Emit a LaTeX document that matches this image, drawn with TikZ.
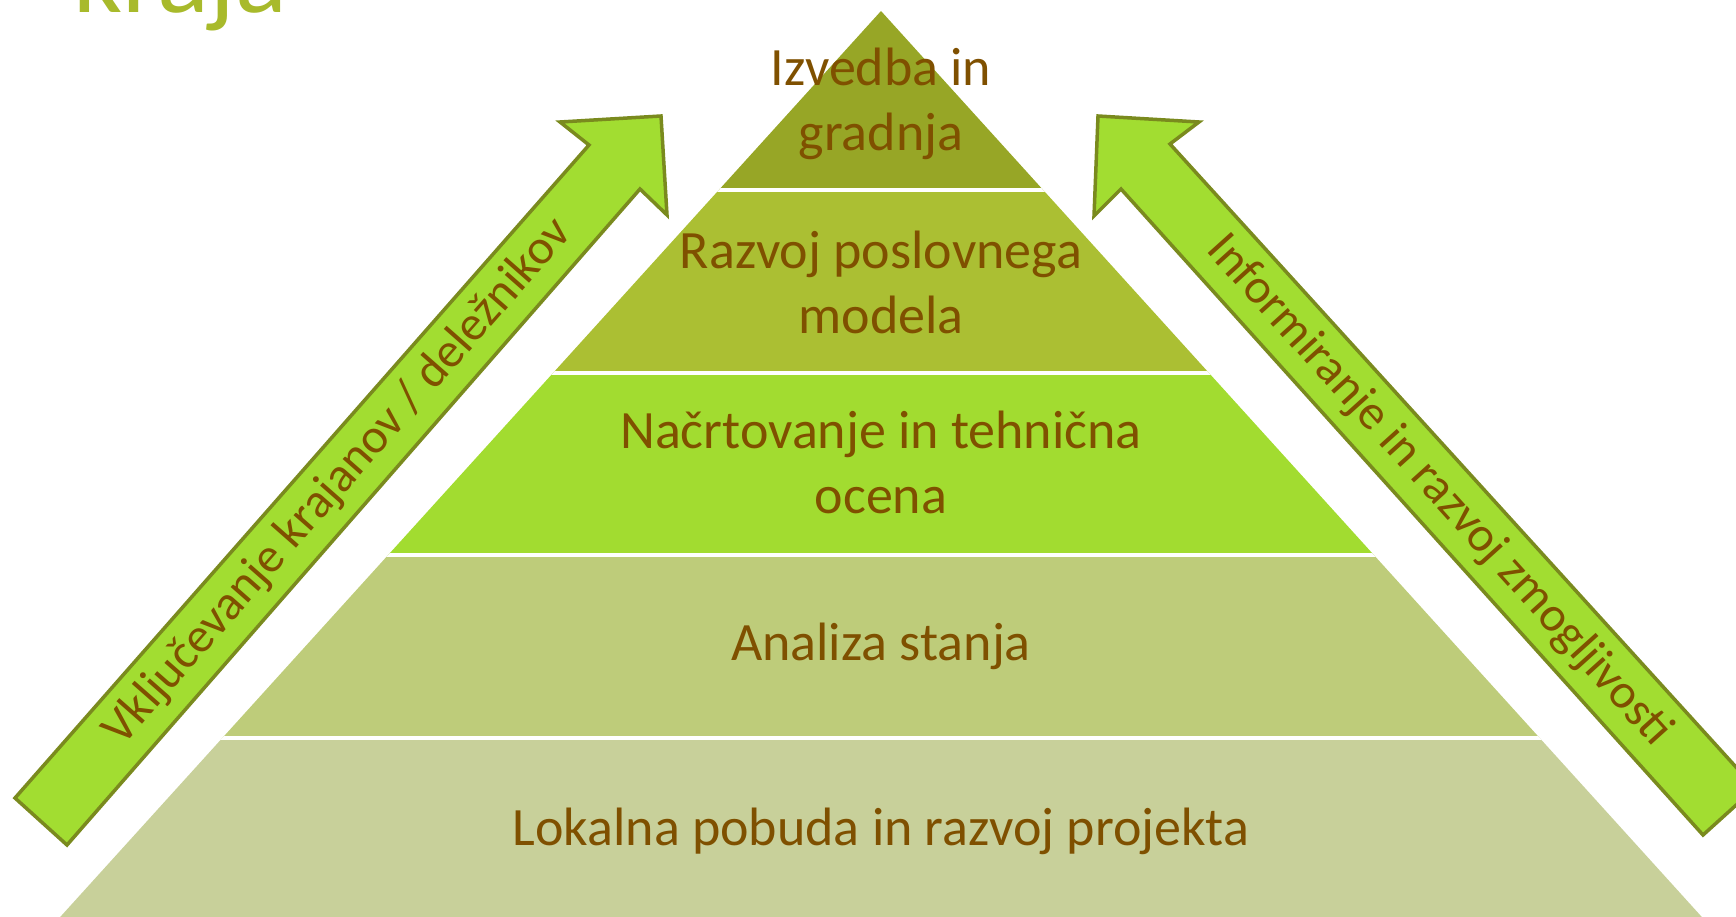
\documentclass[tikz,border=0pt]{standalone}
\usepackage{fontspec}
\setmainfont{Carlito}
\definecolor{txt}{RGB}{127,80,0}
\definecolor{lone}{RGB}{151,166,38}
\definecolor{ltwo}{RGB}{171,191,51}
\definecolor{lthree}{RGB}{162,220,48}
\definecolor{lfour}{RGB}{190,204,122}
\definecolor{lfive}{RGB}{200,208,154}
\definecolor{arrfill}{RGB}{162,221,49}
\definecolor{arrline}{RGB}{122,138,30}
\definecolor{titlec}{RGB}{168,186,43}
\tikzset{
  lbl/.style={text=txt, font=\fontsize{54}{65}\selectfont, align=center, inner sep=0pt},
  albl/.style={text=txt, font=\fontsize{49}{60}\selectfont, inner sep=0pt},
  blockarrow/.style={fill=arrfill, draw=arrline, line width=3.5pt, line join=miter},
  sep/.style={white, line width=3.5pt}
}
\begin{document}
\begin{tikzpicture}[x=1pt,y=-1pt]
\useasboundingbox (0,0) rectangle (1736,917);
\begin{scope}
\clip (0,0) rectangle (1736,917);
% title fragment
\node[anchor=base west, text=titlec, font=\fontsize{108}{120}\selectfont, inner sep=0pt] (title) at (73,13) {kraja};
% pyramid
\begin{scope}
\clip (881,11) -- (-25,1011) -- (1787,1011) -- cycle;
\fill[lone] (0,0) rectangle (1736,190);
\fill[ltwo] (0,190) rectangle (1736,373);
\fill[lthree] (0,373) rectangle (1736,555);
\fill[lfour] (0,555) rectangle (1736,738);
\fill[lfive] (0,738) rectangle (1736,1011);
\draw[sep] (0,190) -- (1736,190);
\draw[sep] (0,373) -- (1736,373);
\draw[sep] (0,555) -- (1736,555);
\draw[sep] (0,738) -- (1736,738);
\end{scope}
\node[lbl] (t1) at (881,104) {Izvedba in\\gradnja};
\node[lbl] (t2) at (881,282) {Razvoj poslovnega\\modela};
\node[lbl] (t3) at (881,462) {Načrtovanje in tehnična\\ocena};
\node[lbl] (t4) at (881,646) {Analiza stanja};
\node[lbl] (t5) at (881,831) {Lokalna pobuda in razvoj projekta};
% arrows
\draw[blockarrow] (15,798) -- (589,145) -- (560,122) -- (661,116) -- (667,215) -- (640,189) -- (67,845) -- cycle;
\draw[blockarrow] (1703,835) -- (1121,189) -- (1094,216) -- (1098,116) -- (1199,122) -- (1170,144) -- (1755,788) -- cycle;
\node[albl, rotate=48.7] (al) at (338,482) {Vključevanje krajanov / deležnikov};
\node[albl, rotate=-48] (ar) at (1439,491) {Informiranje in razvoj zmogljivosti};
\end{scope}
\end{tikzpicture}
\end{document}
